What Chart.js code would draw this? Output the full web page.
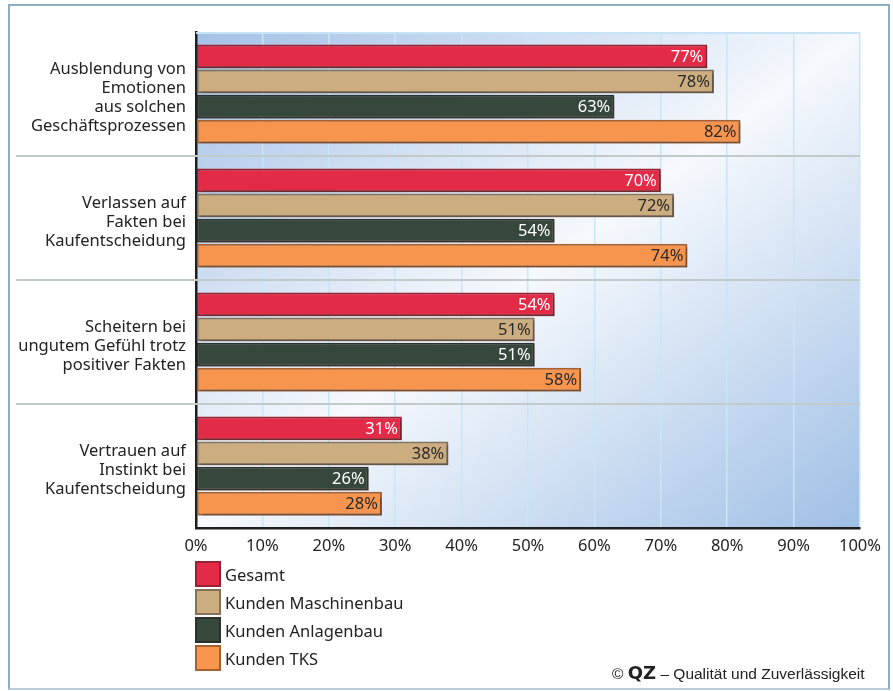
<!DOCTYPE html>
<html>
<head>
<meta charset="utf-8">
<script src="https://cdn.jsdelivr.net/npm/chart.js@4/dist/chart.umd.min.js"></script>
<style>
  html, body { margin:0; padding:0; background:#fff; }
  #wrap { position:relative; width:893px; height:691px; overflow:hidden; }
  #frame { position:absolute; left:8px; top:4px; width:882px; height:686px; border:2px solid #8eaec2; border-bottom-color:#b9cdd9; box-sizing:border-box; pointer-events:none; }
  canvas { position:absolute; left:0; top:0; }
  #legend { position:absolute; left:195px; top:561px; font-family:"Noto Sans", sans-serif; font-size:16.5px; color:#232323; }
  .li { position:relative; height:28px; }
  .sw { position:absolute; left:0; top:0; width:26px; height:26px; box-sizing:border-box; border:2px solid; }
  .lt { position:absolute; left:30px; top:1px; line-height:26px; white-space:nowrap; }
  #copy { position:absolute; left:612px; top:662px; font-family:"Liberation Sans", Arial, sans-serif; font-size:15.5px; color:#222; white-space:nowrap; }
  #copy b { font-family:"DejaVu Sans", sans-serif; font-weight:900; font-size:18px; }
</style>
</head>
<body>
<div id="wrap">
  <canvas id="c" width="893" height="691"></canvas>
  <div id="frame"></div>
  <div id="legend"></div>
  <div id="copy">© <b>QZ</b> – Qualität und Zuverlässigkeit</div>
</div>
<script>
// ---- data ----
const categories = [
  ["Ausblendung von", "Emotionen", "aus solchen", "Geschäftsprozessen"],
  ["Verlassen auf", "Fakten bei", "Kaufentscheidung"],
  ["Scheitern bei", "ungutem Gefühl trotz", "positiver Fakten"],
  ["Vertrauen auf", "Instinkt bei", "Kaufentscheidung"]
];
const seriesNames = ["Gesamt", "Kunden Maschinenbau", "Kunden Anlagenbau", "Kunden TKS"];
const gesamt       = [77, 70, 54, 31];
const maschinenbau = [78, 72, 51, 38];
const anlagenbau   = [63, 54, 51, 26];
const tks          = [82, 74, 58, 28];
const tickValues   = [0, 10, 20, 30, 40, 50, 60, 70, 80, 90, 100];
const tickLabels   = ["0%", "10%", "20%", "30%", "40%", "50%", "60%", "70%", "80%", "90%", "100%"];

// ---- styles ----
const fills   = ["#e32b48", "#ccad80", "#36473c", "#f7954f"];
const borders = ["#9a2034", "#85705a", "#2b322d", "#a8602f"];
const labelColors = ["#ffffff", "#2a2a2a", "#ffffff", "#2a2a2a"];
const seriesValues = [gesamt, maschinenbau, anlagenbau, tks];

const datasets = seriesNames.map((n, i) => ({
  label: n,
  data: seriesValues[i],
  backgroundColor: fills[i],
  borderColor: borders[i],
  borderWidth: 2,
  borderSkipped: false,
  barPercentage: 0.95,
  categoryPercentage: 0.81
}));

const bgPlugin = {
  id: 'bg',
  beforeDraw(chart) {
    const { ctx, chartArea: a } = chart;
    const w = a.right - a.left, h = a.bottom - a.top;
    const cx = a.left + w / 2, cy = a.top + h / 2;
    const len = Math.sqrt(w * w + h * h);
    const dx = h / len, dy = w / len, L = w * h / len;
    const g = ctx.createLinearGradient(cx - dx * L, cy - dy * L, cx + dx * L, cy + dy * L);
    g.addColorStop(0, '#a4c1e6');
    g.addColorStop(0.5, '#f6f9fd');
    g.addColorStop(1, '#9fbfe5');
    ctx.save();
    ctx.fillStyle = g;
    ctx.fillRect(a.left, a.top, w, h);
    ctx.restore();
  },
  beforeDatasetsDraw(chart) {
    const { ctx, chartArea: a, scales: { y } } = chart;
    ctx.save();
    ctx.strokeStyle = '#c6e4f6';
    ctx.lineWidth = 2;
    ctx.beginPath();
    ctx.moveTo(a.left, a.top + 1); ctx.lineTo(a.right, a.top + 1);
    ctx.stroke();
    ctx.strokeStyle = '#c3caca';
    ctx.lineWidth = 2;
    for (let i = 0; i < categories.length - 1; i++) {
      const yy = Math.round((y.getPixelForValue(i) + y.getPixelForValue(i + 1)) / 2);
      ctx.beginPath();
      ctx.moveTo(16, yy); ctx.lineTo(a.right, yy);
      ctx.stroke();
    }
    ctx.restore();
  },
  beforeDatasetDraw(chart) {
    const ctx = chart.ctx;
    ctx.save();
    ctx.shadowColor = 'rgba(70,50,40,0.45)';
    ctx.shadowOffsetX = 2;
    ctx.shadowOffsetY = 2;
    ctx.shadowBlur = 1;
  },
  afterDatasetDraw(chart) {
    chart.ctx.restore();
  },
  afterDatasetsDraw(chart) {
    const ctx = chart.ctx;
    ctx.save();
    ctx.font = '16.5px "Noto Sans", sans-serif';
    ctx.textAlign = 'right';
    ctx.textBaseline = 'middle';
    chart.data.datasets.forEach((ds, di) => {
      const meta = chart.getDatasetMeta(di);
      meta.data.forEach((bar, j) => {
        ctx.fillStyle = labelColors[di];
        ctx.fillText(ds.data[j] + '%', bar.x - 4, bar.y + 1);
      });
    });
    ctx.restore();
  }
};

new Chart(document.getElementById('c'), {
  type: 'bar',
  data: { labels: categories, datasets },
  options: {
    indexAxis: 'y',
    responsive: false,
    animation: false,
    layout: { padding: { left: 0, right: 33, top: 32, bottom: 0 } },
    plugins: { legend: { display: false }, tooltip: { enabled: false } },
    scales: {
      x: {
        min: 0, max: 100,
        afterBuildTicks(scale) { scale.ticks = tickValues.map(v => ({ value: v })); },
        afterFit(scale) { scale.height = 163; scale.paddingLeft = 0; scale.paddingRight = 0; },
        ticks: {
          padding: 8,
          color: '#232323',
          font: { family: '"Noto Sans", sans-serif', size: 16.5 },
          callback: (v) => tickLabels[tickValues.indexOf(v)],
          maxRotation: 0, autoSkip: false
        },
        grid: { color: '#c8e6f7', lineWidth: 1.5, drawTicks: false },
        border: { color: '#1e1e1e', width: 2.5 }
      },
      y: {
        afterFit(scale) { scale.width = 196; scale.paddingTop = 0; scale.paddingBottom = 0; },
        ticks: {
          padding: 10,
          labelOffset: 4,
          color: '#232323',
          font: { family: '"Noto Sans", sans-serif', size: 16.5, lineHeight: 1.16 }
        },
        grid: { display: false, drawTicks: false },
        border: { color: '#1e1e1e', width: 2.5 }
      }
    }
  },
  plugins: [bgPlugin]
});

const lg = document.getElementById('legend');
seriesNames.forEach((n, i) => {
  const d = document.createElement('div');
  d.className = 'li';
  d.innerHTML = '<div class="sw" style="background:' + fills[i] + ';border-color:' + borders[i] + '"></div><div class="lt">' + n + '</div>';
  lg.appendChild(d);
});
</script>
</body>
</html>
